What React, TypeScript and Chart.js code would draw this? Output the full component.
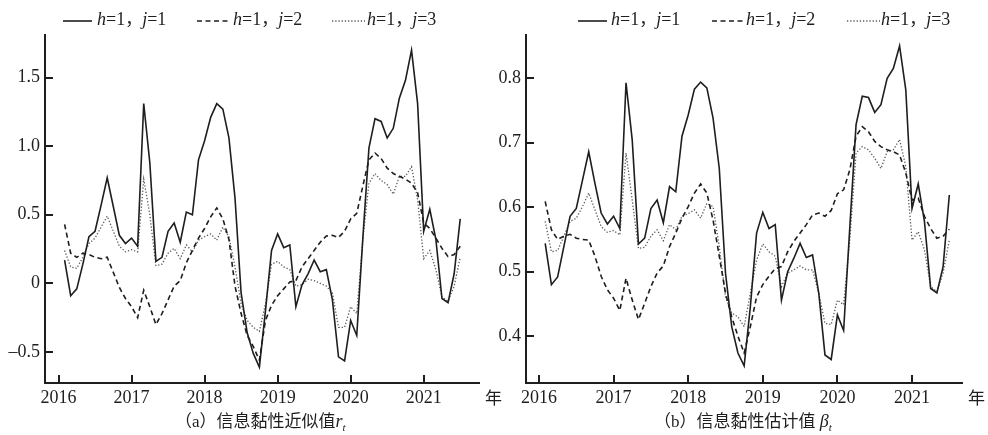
import React, { useEffect, useRef } from 'react';
import { Chart, registerables } from 'chart.js';

Chart.register(...registerables);

// ---------- data ----------
const startYear = 2016;
const startMonth = 2; // first observation: Feb 2016
const yearTicks = [2016, 2017, 2018, 2019, 2020, 2021];
const seriesNames = ['h=1，j=1', 'h=1，j=2', 'h=1，j=3'];

// (a) r_t
const rJ1 = [0.17, -0.09, -0.04, 0.14, 0.34, 0.38, 0.57, 0.77, 0.56, 0.35, 0.29, 0.33, 0.27, 1.31, 0.88, 0.16, 0.19, 0.38, 0.44, 0.30, 0.52, 0.50, 0.90, 1.04, 1.21, 1.31, 1.27, 1.06, 0.62, -0.07, -0.36, -0.51, -0.61, -0.20, 0.24, 0.36, 0.26, 0.28, -0.17, -0.01, 0.07, 0.17, 0.085, 0.10, -0.12, -0.535, -0.565, -0.27, -0.38, 0.33, 0.985, 1.20, 1.18, 1.06, 1.13, 1.35, 1.48, 1.70, 1.31, 0.38, 0.54, 0.32, -0.11, -0.14, 0.07, 0.47];
const rJ2 = [0.43, 0.22, 0.19, 0.22, 0.21, 0.19, 0.18, 0.19, 0.08, -0.03, -0.11, -0.17, -0.25, -0.05, -0.17, -0.30, -0.22, -0.12, -0.02, 0.02, 0.15, 0.24, 0.33, 0.40, 0.485, 0.55, 0.47, 0.32, -0.02, -0.22, -0.38, -0.46, -0.56, -0.27, -0.16, -0.09, -0.04, 0.01, 0.02, 0.12, 0.18, 0.24, 0.30, 0.345, 0.35, 0.335, 0.38, 0.47, 0.51, 0.71, 0.90, 0.95, 0.91, 0.84, 0.80, 0.78, 0.76, 0.73, 0.66, 0.44, 0.40, 0.33, 0.255, 0.195, 0.21, 0.27];
const rJ3 = [0.24, 0.12, 0.11, 0.19, 0.29, 0.33, 0.41, 0.49, 0.38, 0.27, 0.23, 0.245, 0.23, 0.76, 0.50, 0.13, 0.14, 0.22, 0.255, 0.18, 0.28, 0.23, 0.315, 0.34, 0.36, 0.315, 0.41, 0.34, 0.12, -0.15, -0.27, -0.32, -0.35, -0.15, 0.14, 0.16, 0.12, 0.10, -0.02, -0.01, 0.03, 0.02, 0.0, -0.02, -0.07, -0.32, -0.32, -0.17, -0.22, 0.32, 0.73, 0.80, 0.75, 0.72, 0.65, 0.78, 0.78, 0.85, 0.61, 0.18, 0.24, 0.10, -0.10, -0.13, -0.02, 0.19];

// (b) beta_t
const bJ1 = [0.544, 0.480, 0.492, 0.539, 0.586, 0.598, 0.642, 0.686, 0.637, 0.591, 0.574, 0.586, 0.567, 0.793, 0.704, 0.543, 0.552, 0.598, 0.611, 0.576, 0.632, 0.624, 0.710, 0.743, 0.783, 0.794, 0.785, 0.738, 0.660, 0.498, 0.415, 0.374, 0.354, 0.446, 0.560, 0.592, 0.567, 0.573, 0.456, 0.500, 0.521, 0.544, 0.522, 0.526, 0.467, 0.371, 0.364, 0.433, 0.409, 0.570, 0.728, 0.772, 0.770, 0.747, 0.759, 0.800, 0.815, 0.850, 0.782, 0.598, 0.636, 0.578, 0.474, 0.467, 0.508, 0.619];
const bJ2 = [0.609, 0.565, 0.550, 0.555, 0.558, 0.552, 0.550, 0.549, 0.524, 0.493, 0.472, 0.459, 0.440, 0.490, 0.456, 0.426, 0.451, 0.477, 0.498, 0.509, 0.539, 0.560, 0.583, 0.601, 0.622, 0.636, 0.622, 0.580, 0.524, 0.467, 0.430, 0.400, 0.374, 0.415, 0.461, 0.480, 0.493, 0.505, 0.508, 0.531, 0.547, 0.560, 0.573, 0.588, 0.591, 0.586, 0.595, 0.621, 0.627, 0.658, 0.710, 0.725, 0.717, 0.702, 0.694, 0.689, 0.686, 0.681, 0.653, 0.611, 0.614, 0.586, 0.567, 0.552, 0.555, 0.566];
const bJ3 = [0.578, 0.531, 0.533, 0.555, 0.578, 0.583, 0.601, 0.622, 0.596, 0.570, 0.561, 0.564, 0.557, 0.684, 0.611, 0.536, 0.538, 0.555, 0.565, 0.548, 0.573, 0.565, 0.586, 0.590, 0.596, 0.583, 0.606, 0.601, 0.539, 0.461, 0.436, 0.430, 0.415, 0.467, 0.518, 0.543, 0.531, 0.524, 0.477, 0.498, 0.503, 0.509, 0.503, 0.503, 0.467, 0.420, 0.418, 0.456, 0.449, 0.550, 0.684, 0.694, 0.689, 0.676, 0.660, 0.686, 0.689, 0.705, 0.663, 0.549, 0.562, 0.534, 0.477, 0.469, 0.498, 0.549];

const rTicks = [-0.5, 0, 0.5, 1.0, 1.5];
const rTickLabels = ['–0.5', '0', '0.5', '1.0', '1.5'];
const bTicks = [0.4, 0.5, 0.6, 0.7, 0.8];
const bTickLabels = ['0.4', '0.5', '0.6', '0.7', '0.8'];

const captionA = { text: '（a）信息黏性近似值', sym: 'r', sub: 't' };
const captionB = { text: '（b）信息黏性估计值 ', sym: 'β', sub: 't' };
const yearUnit = '年';

// ---------- styles ----------
const INK = '#1e1e1e';
const SERIF = "'Liberation Serif', 'Times New Roman', serif";
const CJK = "'Noto Sans CJK SC', sans-serif";
const styles = [
  { color: INK, width: 1.6, dash: [] as number[] },
  { color: INK, width: 1.6, dash: [5, 3.5] },
  { color: '#5a5a5a', width: 1.3, dash: [1.3, 1.9] },
];

function toPoints(vals: number[]) {
  return vals.map((v, i) => ({ x: startYear + (startMonth - 1 + i) / 12, y: v }));
}

function drawRich(ctx: CanvasRenderingContext2D, x: number, y: number, text: string) {
  for (const ch of Array.from(text)) {
    let font;
    if (/[a-zA-Z\u03b1-\u03c9]/.test(ch)) font = `italic 18px ${SERIF}`;
    else if (/[\u3000-\uffff]/.test(ch)) font = `17px ${CJK}`;
    else font = `18px ${SERIF}`;
    ctx.font = font;
    ctx.fillText(ch, x, y);
    x += ctx.measureText(ch).width;
  }
}

type PanelCfg = {
  series: number[][];
  yTicks: number[];
  yLabels: string[];
  xMin: number; xMax: number;
  yMin: number; yMax: number;
  yAxisWidth: number;
  padRight: number;
  canvasWidth: number;
  legend: { lx: number; lw: number; tx: number }[];
  caption: { text: string; sym: string; sub: string };
  captionX: number;
};

function makeOverlay(cfg: PanelCfg) {
  return {
    id: 'overlay',
    afterDraw(chart: any) {
      const ctx: CanvasRenderingContext2D = chart.ctx;
      const { left, right, bottom } = chart.chartArea;
      const xs = chart.scales.x;
      const ys = chart.scales.y;
      ctx.save();
      // inward tick marks
      ctx.strokeStyle = INK;
      ctx.lineWidth = 2;
      ctx.setLineDash([]);
      yearTicks.forEach((v) => {
        const px = Math.round(xs.getPixelForValue(v));
        ctx.beginPath();
        ctx.moveTo(px, bottom);
        ctx.lineTo(px, bottom - 8);
        ctx.stroke();
      });
      cfg.yTicks.forEach((v) => {
        const py = Math.round(ys.getPixelForValue(v));
        ctx.beginPath();
        ctx.moveTo(left, py);
        ctx.lineTo(left + 8, py);
        ctx.stroke();
      });
      // unit label
      ctx.fillStyle = INK;
      ctx.textBaseline = 'middle';
      ctx.textAlign = 'left';
      ctx.font = `17px ${CJK}`;
      ctx.fillText(yearUnit, right + 6, 398);
      // legend
      cfg.legend.forEach((it, i) => {
        const st = styles[i];
        ctx.strokeStyle = st.color;
        ctx.lineWidth = st.width;
        ctx.setLineDash(st.dash);
        ctx.beginPath();
        ctx.moveTo(it.lx, 21);
        ctx.lineTo(it.lx + it.lw, 21);
        ctx.stroke();
        ctx.setLineDash([]);
        ctx.fillStyle = INK;
        ctx.textBaseline = 'alphabetic';
        drawRich(ctx, it.tx, 25, seriesNames[i]);
      });
      // caption
      ctx.fillStyle = INK;
      ctx.textBaseline = 'alphabetic';
      ctx.font = `17px 'Liberation Serif', ${CJK}`;
      let cx = cfg.captionX;
      ctx.fillText(cfg.caption.text, cx, 427);
      cx += ctx.measureText(cfg.caption.text).width;
      ctx.font = `italic 18px ${SERIF}`;
      ctx.fillText(cfg.caption.sym, cx, 427);
      cx += ctx.measureText(cfg.caption.sym).width;
      ctx.font = `italic 11px ${SERIF}`;
      ctx.fillText(cfg.caption.sub, cx, 431);
      ctx.restore();
    },
  };
}

function Panel({ cfg, leftPos }: { cfg: PanelCfg; leftPos: number }) {
  const ref = useRef<HTMLCanvasElement | null>(null);
  useEffect(() => {
    if (!ref.current) return;
    const chart = new Chart(ref.current, {
      type: 'line',
      data: {
        datasets: cfg.series.map((s, i) => ({
          label: seriesNames[i],
          data: toPoints(s),
          borderColor: styles[i].color,
          borderWidth: styles[i].width,
          borderDash: styles[i].dash,
          pointRadius: 0,
          tension: 0,
          fill: false,
        })),
      },
      options: {
        responsive: false,
        animation: false,
        devicePixelRatio: 1,
        layout: { padding: { left: 0, right: cfg.padRight, top: 35, bottom: 0 } },
        plugins: { legend: { display: false }, tooltip: { enabled: false } },
        scales: {
          x: {
            type: 'linear',
            min: cfg.xMin,
            max: cfg.xMax,
            afterBuildTicks: (scale: any) => {
              scale.ticks = yearTicks.map((v) => ({ value: v }));
            },
            afterFit: (scale: any) => { scale.height = 52; },
            ticks: {
              autoSkip: false,
              maxRotation: 0,
              padding: 4,
              color: INK,
              font: { family: SERIF, size: 18 },
              callback: (v: any) => String(v),
            },
            grid: { display: false, drawTicks: false },
            border: { display: true, color: INK, width: 2 },
          },
          y: {
            type: 'linear',
            min: cfg.yMin,
            max: cfg.yMax,
            afterBuildTicks: (scale: any) => {
              scale.ticks = cfg.yTicks.map((v) => ({ value: v }));
            },
            afterFit: (scale: any) => { scale.width = cfg.yAxisWidth; },
            ticks: {
              autoSkip: false,
              padding: 5,
              color: INK,
              font: { family: SERIF, size: 18 },
              callback: (_v: any, idx: number) => cfg.yLabels[idx],
            },
            grid: { display: false, drawTicks: false },
            border: { display: true, color: INK, width: 2 },
          },
        },
      } as any,
      plugins: [makeOverlay(cfg)],
    });
    return () => chart.destroy();
  }, []);
  return (
    <canvas
      ref={ref}
      width={cfg.canvasWidth}
      height={435}
      style={{ position: 'absolute', left: leftPos, top: 0, width: cfg.canvasWidth, height: 435 }}
    />
  );
}

const panelA: PanelCfg = {
  series: [rJ1, rJ2, rJ3],
  yTicks: rTicks,
  yLabels: rTickLabels,
  xMin: 2015.815, xMax: 2021.757,
  yMin: -0.726, yMax: 1.81,
  yAxisWidth: 45,
  padRight: 31,
  canvasWidth: 510,
  legend: [
    { lx: 63, lw: 29, tx: 97 },
    { lx: 197, lw: 33, tx: 233 },
    { lx: 332, lw: 33, tx: 367 },
  ],
  caption: captionA,
  captionX: 175,
};

const panelB: PanelCfg = {
  series: [bJ1, bJ2, bJ3],
  yTicks: bTicks,
  yLabels: bTickLabels,
  xMin: 2015.826, xMax: 2021.67,
  yMin: 0.3275, yMax: 0.867,
  yAxisWidth: 32,
  padRight: 26,
  canvasWidth: 494,
  legend: [
    { lx: 84, lw: 29, tx: 117 },
    { lx: 218, lw: 33, tx: 252 },
    { lx: 353, lw: 33, tx: 387 },
  ],
  caption: captionB,
  captionX: 160,
};

export default function App() {
  return (
    <div style={{ position: 'absolute', left: 0, top: 0, width: 988, height: 435, background: '#fff' }}>
      <Panel cfg={panelA} leftPos={0} />
      <Panel cfg={panelB} leftPos={494} />
    </div>
  );
}
